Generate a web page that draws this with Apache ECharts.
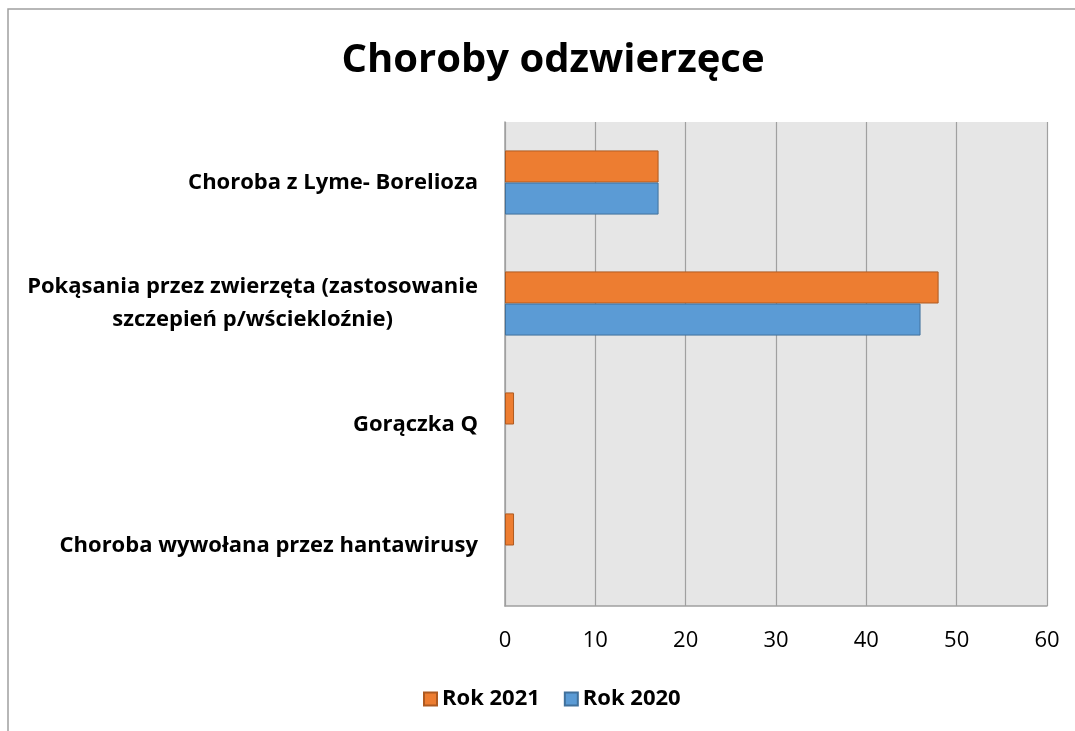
<!DOCTYPE html>
<html lang="pl" style="height: 100%">
<head>
  <meta charset="utf-8">
  <title>Choroby odzwierzęce</title>
</head>
<body style="height: 100%; margin: 0">
  <div id="container" style="width: 1075px;height: 731px"></div>

  <script type="text/javascript" src="https://cdn.jsdelivr.net/npm/echarts@6/dist/echarts.min.js"></script>
  <script type="text/javascript">
    // dane (od góry)
    var categories = [
      'Choroba z Lyme- Borelioza',
      'Pokąsania przez zwierzęta (zastosowanie\nszczepień p/wściekloźnie)',
      'Gorączka Q',
      'Choroba wywołana przez hantawirusy'
    ];
    var rok2021 = [17, 48, 1, 1];
    var rok2020 = [17, 46, 0, 0];
    var xTicks = [0, 10, 20, 30, 40, 50, 60];

    var font = '"Open Sans", sans-serif';
    var dom = document.getElementById('container');
    var myChart = echarts.init(dom, null, { renderer: 'canvas' });

    // słupki o wartości 0 bez obramowania (jak w oryginale)
    function bars(arr) {
      return arr.map(function (v) {
        return v === 0 ? { value: v, itemStyle: { borderWidth: 0 } } : v;
      });
    }

    var option = {
      animation: false,
      title: {
        text: 'Choroby odzwierzęce',
        left: 548,
        top: 36,
        textAlign: 'center',
        textStyle: { fontFamily: font, fontSize: 40, fontWeight: 'bold', color: '#000' }
      },
      legend: {
        left: 418,
        top: 683,
        itemWidth: 13,
        itemHeight: 13,
        itemGap: 24,
        icon: 'rect',
        textStyle: { fontFamily: font, fontSize: 22, fontWeight: 'bold', color: '#000' },
        data: ['Rok 2021', 'Rok 2020']
      },
      grid: {
        left: 505, right: 28, top: 122, bottom: 125,
        show: true, backgroundColor: '#e6e6e6', borderWidth: 0
      },
      xAxis: {
        type: 'value',
        min: 0, max: 60, interval: 10,
        axisLine: { show: true, lineStyle: { color: '#a0a0a0', width: 1.5 } },
        axisTick: { show: false },
        splitLine: { show: true, lineStyle: { color: '#a0a0a0', width: 1.2 } },
        axisLabel: {
          margin: 24,
          fontFamily: font, fontSize: 22, color: '#000',
          formatter: function (v) { return xTicks.indexOf(v) >= 0 ? String(v) : ''; }
        }
      },
      yAxis: {
        type: 'category',
        inverse: true,
        data: categories,
        axisLine: { show: true, lineStyle: { color: '#a0a0a0', width: 1.5 } },
        axisTick: { show: false },
        axisLabel: {
          margin: 27,
          fontFamily: font, fontSize: 22, fontWeight: 'bold', color: '#000', lineHeight: 33,
          formatter: function (v) {
            if (v.indexOf('\n') < 0) return v;
            return v.split('\n').map(function (s) { return '{c|' + s + '}'; }).join('\n');
          },
          rich: {
            c: { align: 'center', fontFamily: font, fontSize: 22, fontWeight: 'bold', color: '#000', lineHeight: 33 }
          }
        }
      },
      series: [
        {
          name: 'Rok 2021', type: 'bar', data: bars(rok2021),
          barGap: '0%', barCategoryGap: '47%',
          itemStyle: { color: '#ED7D31', borderColor: '#AE5A21', borderWidth: 1 }
        },
        {
          name: 'Rok 2020', type: 'bar', data: bars(rok2020),
          itemStyle: { color: '#5B9BD5', borderColor: '#41719C', borderWidth: 1 }
        }
      ],
      graphic: [
        {
          type: 'rect', silent: true,
          shape: { x: 8, y: 9, width: 1200, height: 900 },
          style: { fill: 'none', stroke: '#a0a0a0', lineWidth: 1.5 }
        }
      ]
    };

    myChart.setOption(option);
    window.addEventListener('resize', myChart.resize);
  </script>
</body>
</html>
